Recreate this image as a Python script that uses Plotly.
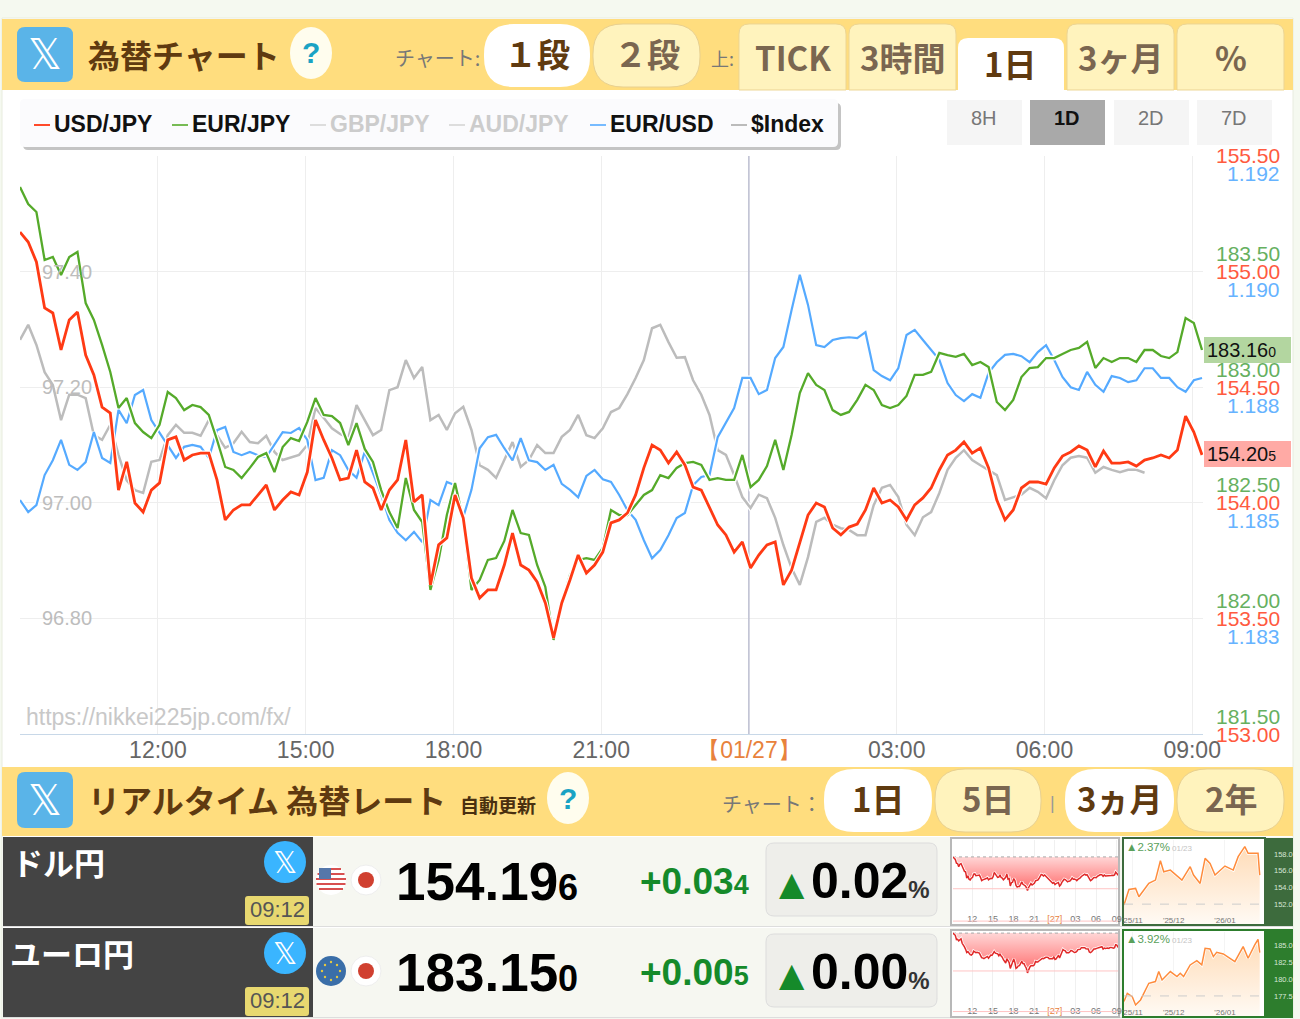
import plotly.graph_objects as go

W, H = 1300, 1019

# hours since 00:00 on 01/26, one reading every 10 minutes
hours = [9.2 + i / 6 for i in range(145)]

usd_jpy = [155.171, 155.128, 155.042, 154.843, 154.821, 154.661, 154.791, 154.825, 154.639, 154.553,
           154.414, 154.388, 154.055, 154.177, 153.999, 153.960, 154.055, 154.086, 154.272, 154.285,
           154.185, 154.207, 154.215, 154.215, 154.099, 153.926, 153.969, 153.991, 153.991, 154.034,
           154.077, 153.969, 154.012, 154.047, 154.034, 154.133, 154.358, 154.272, 154.194, 154.099,
           154.107, 154.228, 154.090, 154.064, 153.969, 154.055, 154.099, 154.272, 154.004, 154.034,
           153.645, 153.818, 153.848, 154.034, 153.934, 153.675, 153.588, 153.623, 153.623, 153.731,
           153.869, 153.731, 153.709, 153.658, 153.567, 153.415, 153.567, 153.666, 153.774, 153.696,
           153.731, 153.787, 153.913, 153.926, 153.956, 154.034, 154.151, 154.250, 154.228, 154.172,
           154.220, 154.164, 154.068, 154.055, 153.982, 153.904, 153.861, 153.787, 153.831, 153.718,
           153.774, 153.818, 153.831, 153.645, 153.709, 153.831, 153.947, 153.999, 153.982, 153.891,
           153.861, 153.895, 153.908, 153.969, 154.064, 153.999, 154.012, 153.982, 153.926, 153.991,
           154.021, 154.064, 154.142, 154.207, 154.228, 154.263, 154.215, 154.237, 154.151, 154.012,
           153.926, 153.969, 154.064, 154.090, 154.090, 154.081, 154.151, 154.202, 154.220, 154.246,
           154.228, 154.155, 154.224, 154.172, 154.172, 154.177, 154.159, 154.185, 154.194, 154.207,
           154.194, 154.228, 154.375, 154.306, 154.207]

eur_jpy = [183.866, 183.792, 183.758, 183.550, 183.563, 183.485, 183.563, 183.585, 183.364, 183.291,
           183.183, 183.066, 182.910, 182.953, 182.845, 182.806, 182.780, 182.837, 182.979, 182.953,
           182.901, 182.923, 182.914, 182.880, 182.772, 182.655, 182.642, 182.607, 182.651, 182.698,
           182.715, 182.633, 182.741, 182.780, 182.767, 182.850, 182.953, 182.880, 182.875, 182.845,
           182.750, 182.845, 182.733, 182.677, 182.555, 182.460, 182.391, 182.607, 182.469, 182.417,
           182.123, 182.253, 182.447, 182.586, 182.426, 182.123, 182.166, 182.253, 182.261, 182.335,
           182.469, 182.369, 182.361, 182.231, 182.136, 181.907, 182.067, 182.188, 182.253, 182.261,
           182.253, 182.305, 182.469, 182.447, 182.447, 182.491, 182.534, 182.555, 182.620, 182.607,
           182.651, 182.672, 182.677, 182.664, 182.599, 182.607, 182.599, 182.599, 182.707, 182.568,
           182.599, 182.659, 182.772, 182.642, 182.793, 182.975, 183.061, 183.010, 182.988, 182.901,
           182.880, 182.893, 182.945, 183.010, 182.988, 182.923, 182.910, 182.923, 182.962, 183.053,
           183.053, 183.066, 183.148, 183.139, 183.131, 183.144, 183.096, 183.109, 183.087, 182.936,
           182.901, 182.945, 183.044, 183.083, 183.087, 183.126, 183.126, 183.144, 183.161, 183.170,
           183.196, 183.083, 183.126, 183.109, 183.126, 183.126, 183.109, 183.161, 183.161, 183.135,
           183.126, 183.152, 183.299, 183.278, 183.161]

eur_usd = [1.18506, 1.18480, 1.18495, 1.18560, 1.18592, 1.18636, 1.18582, 1.18571, 1.18588, 1.18653,
           1.18597, 1.18586, 1.18701, 1.18672, 1.18733, 1.18744, 1.18679, 1.18651, 1.18625, 1.18597,
           1.18621, 1.18625, 1.18621, 1.18597, 1.18657, 1.18664, 1.18610, 1.18603, 1.18610, 1.18603,
           1.18599, 1.18625, 1.18653, 1.18651, 1.18662, 1.18636, 1.18549, 1.18554, 1.18614, 1.18603,
           1.18571, 1.18554, 1.18610, 1.18564, 1.18517, 1.18463, 1.18435, 1.18419, 1.18437, 1.18415,
           1.18506, 1.18495, 1.18545, 1.18538, 1.18469, 1.18528, 1.18618, 1.18642, 1.18647, 1.18618,
           1.18592, 1.18640, 1.18592, 1.18588, 1.18571, 1.18582, 1.18541, 1.18528, 1.18512, 1.18558,
           1.18571, 1.18551, 1.18545, 1.18517, 1.18484, 1.18463, 1.18419, 1.18380, 1.18398, 1.18430,
           1.18467, 1.18478, 1.18538, 1.18556, 1.18560, 1.18642, 1.18675, 1.18705, 1.18770, 1.18770,
           1.18735, 1.18744, 1.18813, 1.18837, 1.18917, 1.18993, 1.18928, 1.18841, 1.18837, 1.18852,
           1.18856, 1.18858, 1.18856, 1.18869, 1.18787, 1.18774, 1.18765, 1.18791, 1.18863, 1.18874,
           1.18852, 1.18830, 1.18809, 1.18759, 1.18733, 1.18720, 1.18735, 1.18727, 1.18781, 1.18804,
           1.18820, 1.18822, 1.18817, 1.18804, 1.18826, 1.18841, 1.18809, 1.18772, 1.18750, 1.18744,
           1.18783, 1.18755, 1.18740, 1.18774, 1.18770, 1.18761, 1.18765, 1.18791, 1.18791, 1.18770,
           1.18770, 1.18750, 1.18740, 1.18765, 1.18770]

dollar_index = [97.282, 97.308, 97.273, 97.226, 97.204, 97.143, 97.187, 97.187, 97.181, 97.117,
                97.109, 97.135, 97.083, 97.039, 97.022, 97.017, 97.071, 97.074, 97.117, 97.135,
                97.121, 97.121, 97.116, 97.143, 97.117, 97.095, 97.103, 97.123, 97.105, 97.103,
                97.116, 97.088, 97.074, 97.079, 97.083, 97.100, 97.164, 97.147, 97.129, 97.119,
                97.112, 97.169, 97.143, 97.117, 97.126, 97.195, 97.200, 97.247, 97.216, 97.235,
                97.143, 97.152, 97.126, 97.155, 97.166, 97.126, 97.065, 97.057, 97.043, 97.074,
                97.105, 97.062, 97.074, 97.100, 97.086, 97.086, 97.114, 97.126, 97.152, 97.117,
                97.112, 97.129, 97.157, 97.164, 97.188, 97.216, 97.247, 97.302, 97.308, 97.278,
                97.251, 97.252, 97.212, 97.187, 97.152, 97.091, 97.083, 97.048, 97.010, 96.991,
                97.014, 97.008, 96.974, 96.927, 96.887, 96.858, 96.906, 96.967, 96.974, 96.962,
                96.956, 96.953, 96.944, 96.944, 96.996, 97.026, 97.031, 97.010, 96.962, 96.944,
                96.975, 96.984, 97.017, 97.057, 97.078, 97.091, 97.074, 97.065, 97.057, 97.048,
                97.005, 97.010, 97.014, 97.026, 97.019, 97.008, 97.039, 97.065, 97.078, 97.081,
                97.078, 97.052, 97.062, 97.057, 97.053, 97.057, 97.057, 97.052]

# three month thumbnails, x is days since the start of the window
usd_3m_days = [0, 3, 7, 9, 15, 19, 22, 24, 28, 35, 40, 42, 46, 49, 52, 55, 61, 66, 69, 73, 75, 81, 82]
usd_3m = [151.9, 153.76, 153.88, 152.88, 154.48, 154.88, 157.2, 155.88, 156.08, 154.88, 156.48, 155.48,
          154.48, 157.48, 156.88, 155.48, 156.56, 156.08, 157.68, 158.88, 158.08, 158.08, 155.48]
eur_3m_days = [0, 2, 5, 7, 10, 15, 19, 21, 23, 28, 32, 34, 36, 40, 44, 47, 49, 52, 54, 56, 60, 67, 72, 75, 79, 81, 82]
eur_3m = [176.67, 177.89, 177.40, 176.18, 176.91, 179.36, 179.61, 181.08, 179.85, 181.08, 180.34, 180.83,
          180.34, 182.06, 182.70, 182.06, 184.51, 184.41, 183.28, 183.92, 183.68, 182.55, 184.75, 183.04,
          185.0, 185.83, 183.87]

x_ticks = [12, 15, 18, 21, 24, 27, 30, 33]
x_labels = ['12:00', '15:00', '18:00', '21:00', '<span style="color:#e8823c">【01/27】</span>', '03:00', '06:00', '09:00']
mini_labels = ['12', '15', '18', '21', '<span style="color:#e8823c">[27]</span>', '03', '06', '09']

usd_ticks = [155.5, 155.0, 154.5, 154.0, 153.5, 153.0]
eur_ticks = [183.5, 183.0, 182.5, 182.0, 181.5]
eurusd_ticks = [1.1925, 1.19, 1.1875, 1.185, 1.1825]
eurusd_labels = ['1.192', '1.190', '1.188', '1.185', '1.183']
dxy_ticks = [97.4, 97.2, 97.0, 96.8]
dxy_grid = [97.6, 97.4, 97.2, 97.0, 96.8, 96.6]

RED, GREEN, BLUE, GRAY = '#ff3a14', '#55aa2a', '#55aaff', '#bcbcbc'
BROWN = '#5f3a10'
TAB = '#fff3bd'
YELLOW = '#ffdd7e'
SANS = 'Liberation Sans, Arial'
JP = 'Noto Sans CJK JP'


def px(x):
    return x / W


def py(y):
    return 1 - y / H


shapes = []
notes = []


def rect(x0, y0, x1, y1, fill, line=None, width=1):
    shapes.append(dict(type='rect', xref='paper', yref='paper', x0=px(x0), x1=px(x1), y0=py(y0), y1=py(y1),
                       fillcolor=fill, line=dict(color=line or fill, width=width if line else 0), layer='below'))


def rrect(x0, y0, x1, y1, r, fill, line=None, square_bottom=False):
    def p(x, y):
        return f'{px(x):.5f},{py(y):.5f}'
    rb = 0 if square_bottom else r
    path = (f'M{p(x0 + r, y0)} L{p(x1 - r, y0)} Q{p(x1, y0)} {p(x1, y0 + r)} L{p(x1, y1 - rb)} Q{p(x1, y1)} {p(x1 - rb, y1)} '
            f'L{p(x0 + rb, y1)} Q{p(x0, y1)} {p(x0, y1 - rb)} L{p(x0, y0 + r)} Q{p(x0, y0)} {p(x0 + r, y0)} Z')
    shapes.append(dict(type='path', xref='paper', yref='paper', path=path, fillcolor=fill,
                       line=dict(color=line or fill, width=1 if line else 0), layer='below'))


def circle(cx, cy, rx, ry, fill, line=None):
    shapes.append(dict(type='circle', xref='paper', yref='paper', x0=px(cx - rx), x1=px(cx + rx), y0=py(cy + ry), y1=py(cy - ry),
                       fillcolor=fill, line=dict(color=line or fill, width=1 if line else 0), layer='below'))


def hline(x0, x1, y, color, width=2):
    shapes.append(dict(type='line', xref='paper', yref='paper', x0=px(x0), x1=px(x1), y0=py(y), y1=py(y),
                       line=dict(color=color, width=width), layer='below'))


def txt(x, y, text, size, color, anchor='center', family=SANS, weight=400):
    # the CJK font sits low in its line box
    if family == JP:
        y -= size * 0.09
    notes.append(dict(xref='paper', yref='paper', x=px(x), y=py(y), text=text, showarrow=False, xanchor=anchor, yanchor='middle',
                      font=dict(size=size, color=color, family=family, weight=weight), borderpad=0, borderwidth=0))


def axis_label(yref, value, text, color, shift):
    notes.append(dict(xref='paper', x=px(1282), yref=yref, y=value, yshift=shift, text=text, showarrow=False, xanchor='right',
                      yanchor='middle', font=dict(size=21, color=color, family=SANS)))


def x_icon(x0, y0, x1, y1):
    rrect(x0, y0, x1, y1, 8, '#5ab4e8')
    txt((x0 + x1) / 2, (y0 + y1) / 2, '𝕏', 42, 'white', family='DejaVu Sans')


def question(cx, cy):
    circle(cx, cy, 21, 26, '#fffdee')
    txt(cx, cy, '?', 30, '#1aa3c4', weight=700)


def pill(x0, x1, y0, y1, label, active):
    rrect(x0, y0, x1, y1, 30, 'white' if active else TAB, None if active else '#e8d090')
    txt((x0 + x1) / 2, (y0 + y1) / 2, label, 33, BROWN if active else '#7a6650', family=JP, weight=700)


# page and headers
rect(2, 18, 1293, 1019, 'white', '#e8ecdf')
rect(2, 19, 1293, 90, YELLOW)
rect(2, 767, 1293, 836, YELLOW)

x_icon(17, 27, 73, 82)
txt(88, 57, '為替チャート', 32, BROWN, 'left', JP, 700)
question(311, 53)
txt(395, 59, 'チャート:', 20, '#777777', 'left', JP)
pill(484, 590, 24, 87, '１段', True)
pill(593, 700, 24, 87, '２段', False)
txt(711, 60, '上:', 18, '#777777', 'left', JP)

for x0, x1, label in [(739, 846, 'TICK'), (849, 956, '3時間'), (1067, 1174, '3ヶ月'), (1177, 1284, '%')]:
    rrect(x0, 24, x1, 90, 10, TAB, '#ecd594', square_bottom=True)
    txt((x0 + x1) / 2, 60, label, 33, '#7a6650', family=JP, weight=700)
rrect(958, 38, 1064, 91, 10, 'white', square_bottom=True)
txt(1010, 66, '1日', 33, BROWN, family=JP, weight=700)

# legend strip
rrect(23, 103, 841, 150, 5, '#c4c4c4')
rrect(20, 99, 838, 147, 5, '#fbfbfd')
for x0, name, col, txt_col in [(34, 'USD/JPY', '#ff4a2a', '#111111'), (172, 'EUR/JPY', '#77bb55', '#111111'),
                               (310, 'GBP/JPY', '#dddddd', '#cccccc'), (449, 'AUD/JPY', '#dddddd', '#cccccc'),
                               (590, 'EUR/USD', '#77bbff', '#111111'), (731, '$Index', '#bbbbbb', '#111111')]:
    hline(x0, x0 + 16, 125, col)
    txt(x0 + 20, 124, name, 23, txt_col, 'left', weight=700)

for x0, label, on in [(947, '8H', False), (1030, '1D', True), (1114, '2D', False), (1197, '7D', False)]:
    rect(x0, 100, x0 + 75, 145, '#a9a9a9' if on else '#f5f5f5')
    txt(x0 + 37, 118, label, 20, '#111111' if on else '#777777', weight=700 if on else 400)

txt(26, 717, 'https://nikkei225jp.com/fx/', 23, '#c8c8c8', 'left')

# second header
x_icon(17, 772, 73, 828)
txt(88, 802, 'リアルタイム 為替レート', 32, BROWN, 'left', JP, 700)
txt(460, 806, '自動更新', 19, '#4a3010', 'left', JP, 700)
question(568, 798)
txt(722, 805, 'チャート：', 20, '#777777', 'left', JP)
pill(824, 932, 769, 832, '1日', True)
pill(935, 1041, 769, 832, '5日', False)
txt(1052, 803, '|', 18, '#999999')
pill(1065, 1174, 769, 832, '3ヵ月', True)
pill(1177, 1284, 769, 832, '2年', False)

# rate table
rows = [(837, 'ドル円', '154.19', '6', '+0.03', '4', '0.02', 12),
        (928, 'ユーロ円', '183.15', '0', '+0.00', '5', '0.00', 10)]
for top, name, rate, rate_small, change, change_small, pct, name_x in rows:
    rect(3, top, 1293, top + 90, '#f6f7f1')
    rect(3, top, 313, top + 89, '#444444')
    hline(3, 1293, top + 89.5, '#dddddd', 1)
    txt(name_x, top + 27, name, 31, 'white', 'left', JP, 700)
    circle(285, top + 25, 21, 21, '#3ab5ff')
    txt(285, top + 25, '𝕏', 30, 'white', family='DejaVu Sans')
    rrect(245, top + 59, 309, top + 88, 3, '#e8d870')
    txt(277, top + 72, '09:12', 22, '#555555')
    circle(366, top + 43, 15, 15, 'white', '#eeeeee')
    circle(366, top + 43, 8, 8, '#d04030')
    txt(396, top + 44, f'{rate}<span style="font-size:36px">{rate_small}</span>', 53, 'black', 'left', weight=700)
    txt(640, top + 44, f'{change}<span style="font-size:27px">{change_small}</span>', 37, '#158a2a', 'left', weight=700)
    rrect(766, top + 6, 937, top + 79, 8, '#eeeeea', '#dddddd')
    txt(779, top + 46, '▲', 33, '#158a2a', 'left', 'DejaVu Sans')
    txt(811, top + 44, f'{pct}<span style="font-size:24px;color:#333333">%</span>', 50, 'black', 'left', weight=700)

# flags
circle(331, 880, 15, 15, 'white')
for dy, half in [(-11, 10), (-6, 13.5), (-1, 15), (4, 14.5), (9, 12)]:
    hline(331 - half, 331 + half, 880 + dy, '#d85050', 2)
rect(319, 868, 331, 879, '#5577aa')
circle(331, 971, 15, 15, '#3a6ea8')
for dx, dy in [(0, -9), (6, -6), (9, 0), (6, 6), (0, 9), (-6, 6), (-9, 0), (-6, -6)]:
    circle(331 + dx, 971 + dy, 1.2, 1.2, '#e6c840')

# colour strips behind the thumbnails
rect(1264, 838, 1293, 926, '#3d6b3d')
rect(1264, 929, 1293, 1018, '#2d7d2d')
for y0, y1 in [(838, 925), (930, 1017)]:
    rect(951, y0, 1119, y1, 'white', '#b8b8b8', 2)
for y0, y1, col in [(838, 925, '#3d6b3d'), (930, 1017, '#2d7d2d')]:
    rect(1123, y0, 1265, y1, 'white', col, 2)

# price boxes
rect(1204, 337, 1291, 363, '#b3d6a0')
rect(1204, 441, 1291, 467, '#ffaaa5')
txt(1207, 350, '183.16<span style="font-size:14px">0</span>', 20, '#111111', 'left')
txt(1207, 454, '154.20<span style="font-size:14px">5</span>', 20, '#111111', 'left')

# right hand scales sit staggered around each grid line
for v in usd_ticks:
    axis_label('y4', v, f'{v:.2f}', '#ff5a40', 0)
for v in eur_ticks:
    axis_label('y3', v, f'{v:.2f}', '#66b060', 18)
for v, lab in zip(eurusd_ticks, eurusd_labels):
    axis_label('y2', v, lab, '#66b3ff', -18)
for v in dxy_ticks:
    notes.append(dict(xref='paper', x=px(40), yref='y', y=v, text=f'{v:.2f}', showarrow=False, xanchor='left', yanchor='middle',
                      font=dict(size=20, color='#bdbdbd', family=SANS)))

fig = go.Figure()


def halo_line(x, y, color, width, xaxis='x', yaxis='y', halo=5):
    fig.add_trace(go.Scatter(x=x, y=y, mode='lines', line=dict(color='white', width=halo), xaxis=xaxis, yaxis=yaxis,
                             hoverinfo='skip', showlegend=False))
    fig.add_trace(go.Scatter(x=x, y=y, mode='lines', line=dict(color=color, width=width), xaxis=xaxis, yaxis=yaxis,
                             hoverinfo='skip', showlegend=False))


# date line at 01/27, then the series: later y axes are painted on top
fig.add_trace(go.Scatter(x=[24, 24], y=[dxy_grid[-1], dxy_grid[0]], mode='lines', line=dict(color='#b4b6cc', width=1.3),
                         hoverinfo='skip', showlegend=False))
halo_line(hours[:len(dollar_index)], dollar_index, GRAY, 2.5, yaxis='y')
halo_line(hours, eur_usd, BLUE, 2.2, yaxis='y2')
halo_line(hours, eur_jpy, GREEN, 2.3, yaxis='y3')
halo_line(hours, usd_jpy, RED, 2.8, yaxis='y4')


def day_thumb(values, xaxis, yaxis):
    base = [values[0]] * len(values)
    fig.add_trace(go.Scatter(x=hours, y=base, mode='lines', line=dict(color='#aaaaaa', width=1, dash='dot'),
                             xaxis=xaxis, yaxis=yaxis, hoverinfo='skip', showlegend=False))
    fig.add_trace(go.Scatter(x=hours, y=values, mode='lines', line=dict(width=0), fill='tonexty',
                             fillgradient=dict(type='vertical', colorscale=[[0, '#ff6a6a'], [1, '#ffd6d6']]),
                             xaxis=xaxis, yaxis=yaxis, hoverinfo='skip', showlegend=False))
    halo_line(hours, values, '#e02828', 1.5, xaxis, yaxis, 3)


def month_thumb(days, values, floor, xaxis, yaxis):
    fig.add_trace(go.Scatter(x=days, y=[floor] * len(days), mode='lines', line=dict(width=0),
                             xaxis=xaxis, yaxis=yaxis, hoverinfo='skip', showlegend=False))
    fig.add_trace(go.Scatter(x=days, y=values, mode='lines', line=dict(width=0), fill='tonexty',
                             fillgradient=dict(type='vertical', colorscale=[[0, '#fffaf4'], [1, '#ffdcb8']]),
                             xaxis=xaxis, yaxis=yaxis, hoverinfo='skip', showlegend=False))
    halo_line(days, values, '#ff8c3c', 1.5, xaxis, yaxis, 3)


day_thumb(usd_jpy, 'x2', 'y5')
month_thumb(usd_3m_days, usd_3m, 149.62, 'x3', 'y6')
day_thumb(eur_jpy, 'x4', 'y7')
month_thumb(eur_3m_days, eur_3m, 174.55, 'x5', 'y8')

for yref, vals, x_ref in [('y5', [153.5, 151.8], 'x2 domain'), ('y7', [182.0, 180.0], 'x4 domain')]:
    for v in vals:
        shapes.append(dict(type='line', xref=x_ref, yref=yref, x0=0, x1=1, y0=v, y1=v, line=dict(color='#ffc4c4', width=1)))
for yref, v, x_ref in [('y6', 152.0, 'x3 domain'), ('y8', 177.5, 'x5 domain')]:
    shapes.append(dict(type='line', xref=x_ref, yref=yref, x0=0, x1=1, y0=v, y1=v, line=dict(color='#cccccc', width=1, dash='dash')))

for top, gain in [(838, '2.37%'), (930, '3.92%')]:
    txt(1126, top + 9, f'▲{gain}', 11.5, '#5aa05a', 'left', weight=400)
    txt(1172, top + 10, '01/23', 8, '#c4c4c4', 'left')


def dom_x(a, b):
    return [a / W, b / W]


def dom_y(top, bottom):
    return [1 - bottom / H, 1 - top / H]


thumb_day_x = dict(range=[9.2, 33.2], tickvals=x_ticks, ticktext=mini_labels, ticklabelposition='inside', ticklabeloverflow='allow',
                   ticklabelstandoff=-4, showline=False, gridcolor='#f0f0f0', tickfont=dict(size=9, color='#777777', family=SANS), zeroline=False)
thumb_month_x = dict(range=[0, 84.6], tickvals=[5, 30, 61], ticktext=["'25/11", "'25/12", "'26/01"], ticklabelposition='inside',
                     ticklabeloverflow='allow', ticklabelstandoff=-4, showline=False, gridcolor='#f4f4f4',
                     tickfont=dict(size=8, color='#777777', family=SANS), zeroline=False)


def price_y(rng, top, bottom, anchor):
    return dict(range=rng, domain=dom_y(top, bottom), anchor=anchor, showgrid=False, zeroline=False, showticklabels=False, ticks='')


def month_y(rng, top, bottom, anchor, vals, labels):
    return dict(range=rng, domain=dom_y(top, bottom), anchor=anchor, side='right', showgrid=False, zeroline=False, tickvals=vals,
                ticktext=labels, ticks='', ticklabelstandoff=9, tickfont=dict(size=7.5, color='#d6e6d6', family=SANS))


fig.update_layout(
    width=W, height=H, autosize=False, margin=dict(l=0, r=0, t=0, b=0, autoexpand=False), paper_bgcolor='#f5f9f0',
    plot_bgcolor='rgba(0,0,0,0)', showlegend=False, shapes=shapes, annotations=notes, hovermode=False,
    xaxis=dict(domain=dom_x(20, 1203), range=[9.2, 33.22], tickvals=x_ticks, ticktext=x_labels, anchor='y', ticks='', showline=True,
               ticklabelstandoff=-5, linecolor='#c8d8e8', gridcolor='#eeeeee', zeroline=False,
               tickfont=dict(size=23, color='#666666', family=SANS)),
    yaxis=dict(domain=dom_y(156, 734), range=[96.6, 97.6], tickvals=dxy_grid, showticklabels=False, gridcolor='#eeeeee', zeroline=False, ticks=''),
    yaxis2=dict(range=[1.18, 1.1925], overlaying='y', visible=False),
    yaxis3=dict(range=[181.5, 184.0], overlaying='y', visible=False),
    yaxis4=dict(range=[153.0, 155.5], overlaying='y', visible=False),
    xaxis2=dict(domain=dom_x(953, 1118), anchor='y5', **thumb_day_x),
    yaxis5=price_y([151.7, 156.06], 840, 923, 'x2'),
    xaxis3=dict(domain=dom_x(1124, 1264), anchor='y6', **thumb_month_x),
    yaxis6=month_y([149.62, 159.68], 840, 924, 'x3', [158, 156, 154, 152], ['158.0', '156.0', '154.0', '152.0']),
    xaxis4=dict(domain=dom_x(953, 1118), anchor='y7', **thumb_day_x),
    yaxis7=price_y([179.83, 183.92], 932, 1015, 'x4'),
    xaxis5=dict(domain=dom_x(1124, 1264), anchor='y8', **thumb_month_x),
    yaxis8=month_y([174.55, 186.9], 932, 1016, 'x5', [185, 182.5, 180, 177.5], ['185.0', '182.5', '180.0', '177.5']),
)

fig.write_html('out.html', config=dict(displayModeBar=False),
               post_script="document.body.style.margin='0';document.body.style.overflow='hidden';")
